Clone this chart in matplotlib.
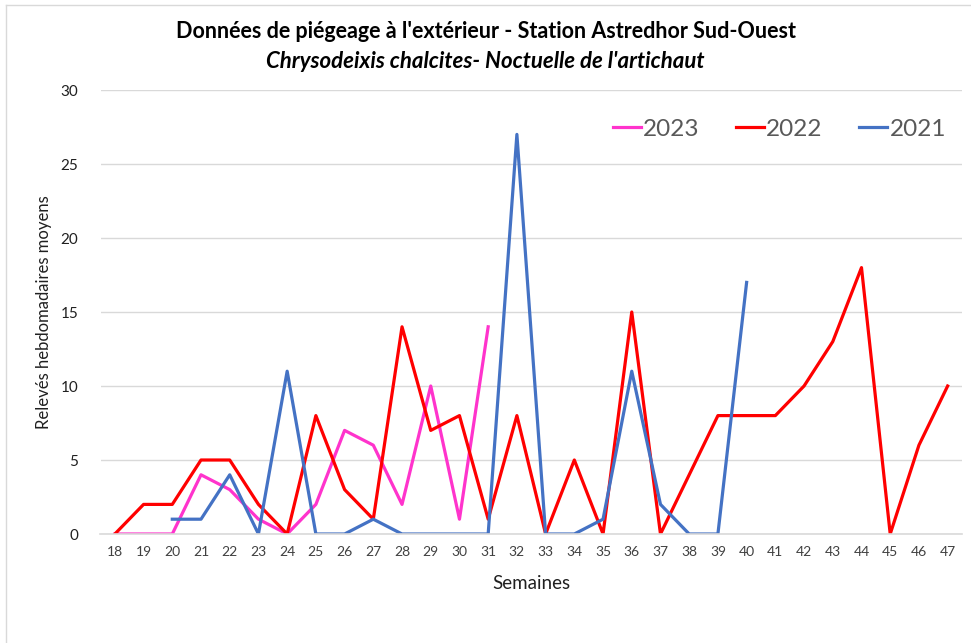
import matplotlib
matplotlib.use('Agg')
import matplotlib.pyplot as plt
from matplotlib.lines import Line2D

plt.rcParams['font.family'] = ['Lato', 'DejaVu Sans']

weeks = list(range(18, 48))

weeks_2023 = list(range(18, 32))
vals_2023 = [0, 0, 0, 4, 3, 1, 0, 2, 7, 6, 2, 10, 1, 14]

weeks_2022 = list(range(18, 48))
vals_2022 = [0, 2, 2, 5, 5, 2, 0, 8, 3, 1, 14, 7, 8, 1, 8, 0, 5, 0, 15, 0,
             4, 8, 8, 8, 10, 13, 18, 0, 6, 10]

weeks_2021 = list(range(20, 41))
vals_2021 = [1, 1, 4, 0, 11, 0, 0, 1, 0, 0, 0, 0, 27, 0, 0, 1, 11, 2, 0, 0, 17]

W, H = 971, 643
fig = plt.figure(figsize=(W / 100, H / 100), dpi=100)
ax = fig.add_axes([100.5 / W, 1 - 534 / H, (962 - 100.5) / W, (534 - 90) / H])

ax.plot(weeks_2023, vals_2023, color='#ff33cc', lw=2.3, label='2023')
ax.plot(weeks_2022, vals_2022, color='#ff0000', lw=2.3, label='2022')
ax.plot(weeks_2021, vals_2021, color='#4472c4', lw=2.3, label='2021')

ax.set_xlim(17.5, 47.5)
ax.set_ylim(0, 30)
ax.set_xticks(weeks)
ax.set_xticklabels([str(w) for w in weeks])
ax.set_yticks(range(0, 31, 5))
ax.grid(axis='y', color='#d9d9d9', lw=1)
ax.set_axisbelow(True)
for s in ['top', 'right', 'left']:
    ax.spines[s].set_visible(False)
ax.spines['bottom'].set_color('#d9d9d9')
ax.spines['bottom'].set_linewidth(1.2)
ax.tick_params(axis='both', length=0)
ax.tick_params(axis='x', labelsize=10, colors='#404040', pad=9)
ax.tick_params(axis='y', labelsize=11, colors='#202020', pad=16)

ax.set_xlabel('Semaines', fontsize=13.5, color='#202020', labelpad=12)
ax.set_ylabel('Relevés hebdomadaires moyens', fontsize=12, color='#202020', labelpad=6)

leg = ax.legend(loc='upper right', ncol=3, frameon=False, fontsize=17.5,
                handlelength=1.15, handletextpad=0.1, columnspacing=1.5,
                bbox_to_anchor=(1.007, 0.985))
for t in leg.get_texts():
    t.set_color('#595959')

fig.text(0.5, 1 - 32 / H, "Données de piégeage à l'extérieur - Station Astredhor Sud-Ouest",
         ha='center', va='center', fontsize=15.5, fontweight='bold')
fig.text(0.5, 1 - 62 / H, "Chrysodeixis chalcites- Noctuelle de l'artichaut",
         ha='center', va='center', fontsize=16, fontweight='bold', style='italic')

# light border of the chart area
fig.add_artist(Line2D([6 / W, 6 / W], [0, 1 - 5 / H], color='#d9d9d9', lw=1))
fig.add_artist(Line2D([6 / W, 1], [1 - 5 / H, 1 - 5 / H], color='#d9d9d9', lw=1))

fig.savefig('out.png', dpi=100)
